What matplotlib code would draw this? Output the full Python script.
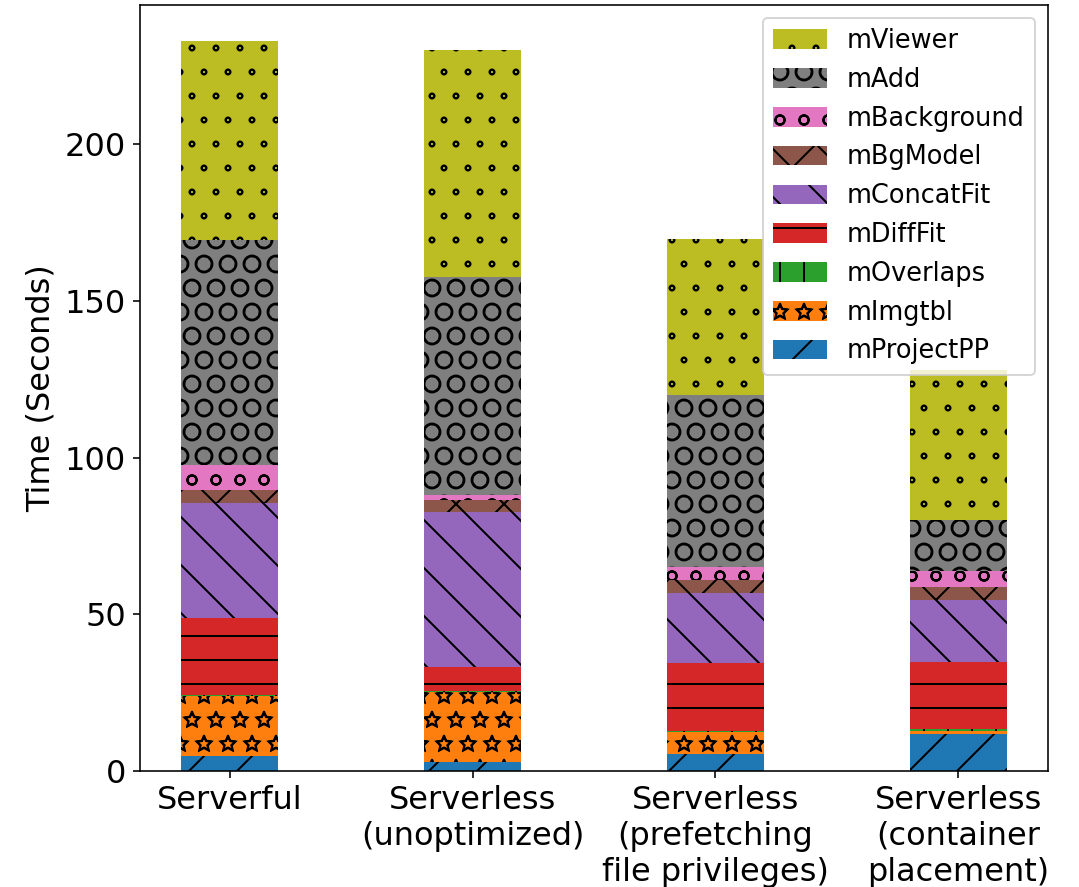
import matplotlib
matplotlib.use("Agg")
import matplotlib.pyplot as plt
import matplotlib.hatch as mhatch
import numpy as np

# Draw star and dot hatches as outlines rather than solid shapes
mhatch.Stars.filled = False
mhatch.SmallFilledCircles.filled = False

configs = ["Serverful", "Serverless\n(unoptimized)",
           "Serverless\n(prefetching\nfile privileges)",
           "Serverless\n(container\nplacement)"]

# Stage times in seconds, bottom of the stack first
mProjectPP  = [4.8, 3.0, 5.4, 11.7]
mImgtbl     = [19.1, 22.3, 6.9, 1.2]
mOverlaps   = [0.3, 0.3, 0.5, 0.4]
mDiffFit    = [24.5, 7.5, 21.5, 21.6]
mConcatFit  = [36.7, 49.6, 22.6, 19.6]
mBgModel    = [4.2, 3.9, 4.0, 4.1]
mBackground = [8.0, 1.4, 4.1, 5.3]
mAdd        = [71.7, 69.5, 54.9, 16.1]
mViewer     = [63.5, 72.7, 49.7, 48.1]

stages = ["mProjectPP", "mImgtbl", "mOverlaps", "mDiffFit", "mConcatFit",
          "mBgModel", "mBackground", "mAdd", "mViewer"]
values = [mProjectPP, mImgtbl, mOverlaps, mDiffFit, mConcatFit,
          mBgModel, mBackground, mAdd, mViewer]
hatches = ["/", "*", "|", "-", "\\", "x", "o", "O", "."]

fig = plt.figure(figsize=(1079 / 144, 887 / 144), dpi=144)
ax = fig.add_axes([0.1297, 0.1308, 0.9713 - 0.1297, 0.9944 - 0.1308])

x = np.arange(len(configs))
bottom = np.zeros(len(configs))
handles = []
for name, vals, h in zip(stages, values, hatches):
    bars = ax.bar(x, vals, 0.4, bottom=bottom, label=name, hatch=h)
    handles.append(bars)
    bottom += np.array(vals)

ax.set_xticks(x)
ax.set_xticklabels(configs, fontsize=16)
ax.tick_params(axis="y", labelsize=16)
ax.set_ylabel("Time (Seconds)", fontsize=16)

ax.legend(handles[::-1], stages[::-1], loc="upper right", fontsize=12.8,
          handlelength=2.1, handleheight=0.8)

fig.savefig("out.png", dpi=144)
